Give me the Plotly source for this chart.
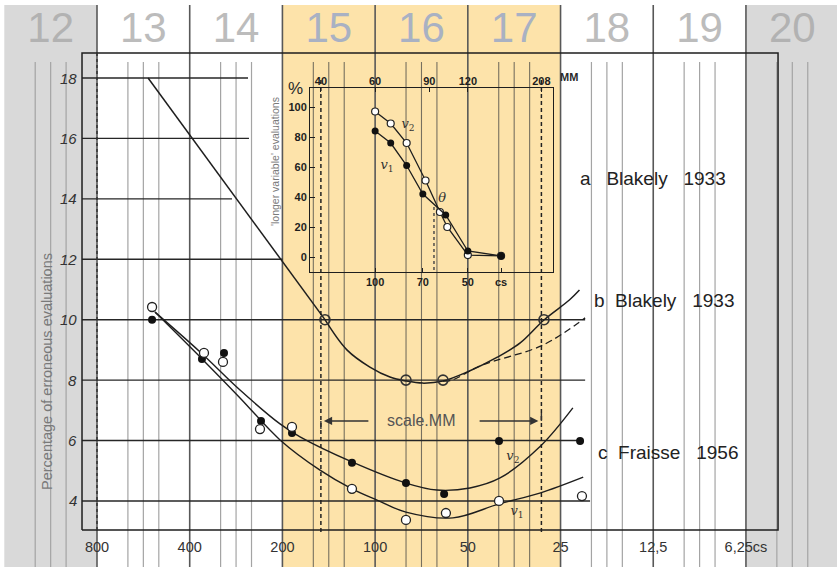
import math
import plotly.graph_objects as go

# ---------------- scale bands (durations in cs, one octave each) ----------------
band_edges = [1600, 800, 400, 200, 100, 50, 25, 12.5, 6.25, 3.125]
band_labels = ["12", "13", "14", "15", "16", "17", "18", "19", "20"]
band_kind = ["grey", "white", "white", "scale", "scale", "scale", "white", "white", "grey"]

# main axes
x_tick_vals = [800, 400, 200, 100, 50, 25, 12.5, 6.25]
x_tick_text = ["800", "400", "200", "100", "50", "25", "12,5", "6,25cs"]
y_tick_vals = [18, 16, 14, 12, 10, 8, 6, 4]
grid_end_cs = [258.7, 256.8, 291.6, 200, 20.8, 20.8, 21.6, 20.05]

# metronome range of the scale (MM)
mm_range = [40, 208]

# a  Blakely 1933
a_cs = [546, 145.5]
a_pct = [18, 10]

# b  Blakely 1933
b_curve_cs = [145.5, 123.5, 104, 89.5, 79.4, 70, 60.2, 50.2, 40.1, 33.8, 28.3, 23.4, 21.7]
b_curve_pct = [10.0, 9.0, 8.43, 8.10, 7.97, 7.90, 7.97, 8.27, 8.76, 9.23, 9.99, 10.65, 10.98]
b_dash_cs = [60.2, 56.3, 45.6, 28.5, 20.8]
b_dash_pct = [7.97, 8.0, 8.47, 9.16, 10.06]
b_pts_cs = [145.5, 79.4, 60.2, 28.3]
b_pts_pct = [10, 8, 8, 10]

# c  Fraisse 1956
c_v2_curve_cs = [518.5, 370, 274.6, 203.6, 175.3, 118.9, 79.4, 63.0, 49.2, 39.3, 29.2, 22.8]
c_v2_curve_pct = [10.25, 8.93, 7.67, 6.55, 6.12, 5.29, 4.59, 4.36, 4.43, 4.76, 5.79, 7.08]
c_v1_curve_cs = [518.5, 356.8, 274.6, 203.6, 151, 118.9, 98.6, 79.4, 55.9, 39.6, 29.2, 21.1]
c_v1_curve_pct = [10.25, 8.60, 7.41, 6.02, 5.02, 4.40, 4.03, 3.63, 3.44, 3.90, 4.26, 4.79]
c_v2_cs = [530, 365, 309.5, 234.7, 186.2, 118.9, 79.4, 59.7, 39.6, 21.6]
c_v2_pct = [10.0, 8.70, 8.90, 6.65, 6.25, 5.26, 4.59, 4.23, 5.98, 5.98]
c_v1_cs = [530, 359.5, 311.9, 236.5, 186.2, 118.9, 79.4, 58.9, 39.6, 21.3]
c_v1_pct = [10.42, 8.90, 8.60, 6.38, 6.45, 4.40, 3.37, 3.60, 4.00, 4.16]

# inset: 'longer variable' evaluations (%)
in_v2_cs = [100, 89, 79, 68.6, 61.6, 58.3, 50, 39]
in_v2_pct = [97, 89, 76, 51, 30, 20, 1.3, 0.7]
in_v1_cs = [100, 89, 79, 70, 59, 50, 39]
in_v1_pct = [84, 76, 61, 42, 28, 4, 0.7]
theta_cs = 64.4
in_pct_ticks = [0, 20, 40, 60, 80, 100]
in_cs_ticks = [100, 70, 50, 39]
in_cs_text = ["100", "70", "50", "cs"]
in_mm_ticks = [40, 60, 90, 120, 208]

# ---------------- geometry ----------------
W, H = 837, 567
X_RANGE = [math.log10(1652.2), math.log10(3.164)]
Y_RANGE = [1.813, 20.582]
Y_BAND_TOP = 20.416
Y_SUB_TOP = 18.53
Y_LOW = 1.0
FRAME_CS = [894.9, 4.917]
FRAME_PCT = [3.04, 18.83]
IN_X_RANGE = [math.log10(162.73), math.log10(26.45)]
IN_Y_RANGE = [-10, 112.667]

FONT = "Liberation Sans, Arial, sans-serif"
INK = "#1e1e1e"


def px(x):
    return x / W


def py(y):
    return 1 - y / H


def segments(pairs_x, pairs_y, color, width, dash=None, xaxis="x", yaxis="y"):
    xs, ys = [], []
    for sx, sy in zip(pairs_x, pairs_y):
        xs += list(sx) + [None]
        ys += list(sy) + [None]
    return go.Scatter(x=xs, y=ys, mode="lines", hoverinfo="skip",
                      line=dict(color=color, width=width, dash=dash),
                      xaxis=xaxis, yaxis=yaxis)


fig = go.Figure()

# background bands
fills = {"grey": "#d9d9d9", "white": "#ffffff", "scale": "#fde3aa"}
for e0, e1, kind in zip(band_edges[:-1], band_edges[1:], band_kind):
    fig.add_trace(go.Scatter(
        x=[e0, e1, e1, e0, e0],
        y=[Y_LOW, Y_LOW, Y_BAND_TOP, Y_BAND_TOP, Y_LOW],
        fill="toself", fillcolor=fills[kind], mode="none", hoverinfo="skip"))

# sub-division lines: thirds and half of every octave
sub_light_x, sub_light_y, sub_dark_x, sub_dark_y = [], [], [], []
for e0, kind in zip(band_edges[:-1], band_kind):
    for f in (1 / 3, 1 / 2, 2 / 3):
        v = e0 / 2 ** f
        if kind == "scale":
            sub_dark_x.append((v, v)); sub_dark_y.append((Y_SUB_TOP, Y_LOW))
        else:
            sub_light_x.append((v, v)); sub_light_y.append((Y_SUB_TOP, Y_LOW))
fig.add_trace(segments(sub_light_x, sub_light_y, "#a4a4a4", 1.2))
fig.add_trace(segments(sub_dark_x, sub_dark_y, "#77705f", 1.1))

# octave lines
oct_x = [(e, e) for e in band_edges[1:-1]]
oct_y = [(Y_BAND_TOP, Y_LOW)] * len(oct_x)
fig.add_trace(segments(oct_x, oct_y, "#585858", 1.6))

# horizontal rulings of the main chart
gx = [(FRAME_CS[0], e) for e in grid_end_cs]
gy = [(v, v) for v in y_tick_vals]
fig.add_trace(segments(gx, gy, "#262626", 1.4))

# frame
fig.add_trace(go.Scatter(
    x=[FRAME_CS[0], FRAME_CS[1], FRAME_CS[1], FRAME_CS[0], FRAME_CS[0]],
    y=[FRAME_PCT[0], FRAME_PCT[0], FRAME_PCT[1], FRAME_PCT[1], FRAME_PCT[0]],
    mode="lines", line=dict(color=INK, width=1.5), hoverinfo="skip"))
fig.add_trace(segments([(800, 800)], [(FRAME_PCT[1], FRAME_PCT[0])], "#333333", 1.5, dash="dot"))

# MM scale limits
mm_cs = [6000 / m for m in mm_range]
fig.add_trace(segments([(c, c) for c in mm_cs], [(17.93, 2.97)] * 2, "#222222", 1.5, dash="4px,3px"))
arrow_y = 6.648
fig.add_trace(segments([(mm_cs[0], mm_cs[0]), (mm_cs[1], mm_cs[1])],
                       [(arrow_y, 6.38), (arrow_y, 6.91)], "#333333", 1.4))

# a + b  Blakely
fig.add_trace(go.Scatter(x=a_cs, y=a_pct, mode="lines", line=dict(color=INK, width=1.5), hoverinfo="skip"))
fig.add_trace(go.Scatter(x=b_curve_cs, y=b_curve_pct, mode="lines",
                         line=dict(color=INK, width=1.5, shape="spline"), hoverinfo="skip"))
fig.add_trace(go.Scatter(x=b_dash_cs, y=b_dash_pct, mode="lines",
                         line=dict(color=INK, width=1.3, dash="7px,4px", shape="spline"), hoverinfo="skip"))
fig.add_trace(go.Scatter(x=b_pts_cs, y=b_pts_pct, mode="markers", hoverinfo="skip",
                         marker=dict(symbol="circle-open", size=10, color="#333333", line=dict(width=1.6))))

# c  Fraisse
for cx, cy in ((c_v2_curve_cs, c_v2_curve_pct), (c_v1_curve_cs, c_v1_curve_pct)):
    fig.add_trace(go.Scatter(x=cx, y=cy, mode="lines", hoverinfo="skip",
                             line=dict(color=INK, width=1.4, shape="spline")))
fig.add_trace(go.Scatter(x=c_v2_cs, y=c_v2_pct, mode="markers", hoverinfo="skip",
                         marker=dict(symbol="circle", size=8, color="#111111")))
fig.add_trace(go.Scatter(x=c_v1_cs, y=c_v1_pct, mode="markers", hoverinfo="skip",
                         marker=dict(symbol="circle", size=9, color="white",
                                     line=dict(color="#222222", width=1.3))))

# band numbers
num_colors = {"grey": "#b2b2b2", "white": "#bcbcbc", "scale": "#a9b1c3"}
fig.add_trace(go.Scatter(
    x=[math.sqrt(e0 * e1) for e0, e1 in zip(band_edges[:-1], band_edges[1:])],
    y=[19.556] * len(band_labels), text=band_labels, mode="text", hoverinfo="skip",
    textfont=dict(family=FONT, size=42, color=[num_colors[k] for k in band_kind])))

# bottom duration labels
fig.add_trace(go.Scatter(x=x_tick_vals, y=[2.444] * len(x_tick_vals), text=x_tick_text,
                         mode="text", hoverinfo="skip",
                         textfont=dict(family=FONT, size=14.5, color="#333333")))

# curve labels
fig.add_trace(go.Scatter(x=[35.7, 34.6], y=[5.46, 3.64],
                         text=["<i>v</i><sub>2</sub>", "<i>v</i><sub>1</sub>"],
                         mode="text", hoverinfo="skip",
                         textfont=dict(family="DejaVu Serif, serif", size=13, color="#333333")))

# ---------------- inset ----------------
fig.add_trace(segments([(theta_cs, theta_cs)], [(33.3, IN_Y_RANGE[0])], "#444444", 1.4,
                       dash="dot", xaxis="x2", yaxis="y2"))
fig.add_trace(go.Scatter(x=in_v2_cs, y=in_v2_pct, mode="lines+markers", xaxis="x2", yaxis="y2",
                         hoverinfo="skip", line=dict(color=INK, width=1.3),
                         marker=dict(symbol="circle", size=7, color="white",
                                     line=dict(color="#222222", width=1.2))))
fig.add_trace(go.Scatter(x=in_v1_cs, y=in_v1_pct, mode="lines+markers", xaxis="x2", yaxis="y2",
                         hoverinfo="skip", line=dict(color=INK, width=1.3),
                         marker=dict(symbol="circle", size=7, color="#111111")))
fig.add_trace(go.Scatter(x=[78.2, 91.5, 60.6], y=[88, 60.7, 39],
                         text=["<i>v</i><sub>2</sub>", "<i>v</i><sub>1</sub>", "<i>θ</i>"],
                         mode="text", xaxis="x2", yaxis="y2", hoverinfo="skip",
                         textfont=dict(family="DejaVu Serif, serif", size=13, color="#333333")))
fig.add_trace(go.Scatter(x=[100], y=[-100], mode="markers", xaxis="x3", yaxis="y2",
                         marker=dict(opacity=0), hoverinfo="skip"))

# ---------------- text ----------------
ann = []
for v in y_tick_vals:
    ann.append(dict(x=px(79), y=v, xref="paper", yref="y", text=f"<i>{v}</i>", showarrow=False,
                    xanchor="right", yanchor="middle",
                    font=dict(family=FONT, size=15, color="#333333")))
legend_rows = [("a   Blakely   1933", 178, 578), ("b  Blakely   1933", 300, 592),
               ("c  Fraisse   1956", 452, 596)]
for txt, yy, xx in legend_rows:
    ann.append(dict(x=px(xx), y=py(yy), xref="paper", yref="paper", text=txt, showarrow=False,
                    xanchor="left", yanchor="middle", font=dict(family=FONT, size=19, color="#222222")))
ann += [
    dict(x=px(47), y=py(372), xref="paper", yref="paper", text="Percentage of erroneous evaluations",
         textangle=-90, showarrow=False, xanchor="center", yanchor="middle",
         font=dict(family=FONT, size=14.5, color="#7a7a7a")),
    dict(x=px(275), y=py(162), xref="paper", yref="paper", text="'longer variable' evaluations",
         textangle=-90, showarrow=False, xanchor="center", yanchor="middle",
         font=dict(family=FONT, size=10.5, color="#7a7a7a")),
    dict(x=px(295), y=py(89), xref="paper", yref="paper", text="%", showarrow=False,
         xanchor="center", yanchor="middle", font=dict(family=FONT, size=17, color="#2a2a2a")),
    dict(x=px(569), y=py(77), xref="paper", yref="paper", text="<b>MM</b>", showarrow=False,
         xanchor="center", yanchor="middle", font=dict(family=FONT, size=11, color="#2a2a2a")),
    dict(x=px(421), y=py(420), xref="paper", yref="paper", text="scale.MM", showarrow=False,
         xanchor="center", yanchor="middle", font=dict(family=FONT, size=16, color="#555555")),
    dict(x=math.log10(mm_cs[0]), y=arrow_y, ax=math.log10(104), ay=arrow_y, xref="x", yref="y",
         axref="x", ayref="y", text="", showarrow=True, arrowhead=2, arrowsize=1.1,
         arrowwidth=1.5, arrowcolor="#333333", standoff=3),
    dict(x=math.log10(mm_cs[1]), y=arrow_y, ax=math.log10(46.3), ay=arrow_y, xref="x", yref="y",
         axref="x", ayref="y", text="", showarrow=True, arrowhead=2, arrowsize=1.1,
         arrowwidth=1.5, arrowcolor="#333333", standoff=3),
]

tick_font = dict(family=FONT, size=11, color="#1e1e1e")
fig.update_layout(
    width=W, height=H, margin=dict(l=0, r=0, t=0, b=0),
    paper_bgcolor="white", plot_bgcolor="rgba(0,0,0,0)", showlegend=False,
    xaxis=dict(type="log", range=X_RANGE, domain=[0, 1], visible=False),
    yaxis=dict(range=Y_RANGE, domain=[0, 1], visible=False),
    xaxis2=dict(type="log", domain=[310 / W, 553 / W], range=IN_X_RANGE, anchor="y2",
                showline=True, mirror=True, linecolor=INK, linewidth=1,
                ticks="inside", ticklen=4, tickcolor=INK, tickvals=in_cs_ticks,
                ticktext=[f"<b>{t}</b>" for t in in_cs_text], tickfont=tick_font,
                showgrid=False, zeroline=False),
    xaxis3=dict(type="log", overlaying="x2", side="top", range=IN_X_RANGE, anchor="y2",
                ticks="inside", ticklen=4, tickcolor=INK,
                tickvals=[6000 / m for m in in_mm_ticks],
                ticktext=[f"<b>{m}</b>" for m in in_mm_ticks], tickfont=tick_font,
                showline=False, showgrid=False, zeroline=False),
    yaxis2=dict(domain=[1 - 272 / H, 1 - 88 / H], range=IN_Y_RANGE, anchor="x2",
                showline=True, mirror=True, linecolor=INK, linewidth=1,
                ticks="inside", ticklen=5, tickcolor=INK, tickvals=in_pct_ticks,
                ticktext=[f"<b>{t}</b>" for t in in_pct_ticks], tickfont=tick_font,
                showgrid=False, zeroline=False),
    annotations=ann,
)

fig.write_html("out.html")
